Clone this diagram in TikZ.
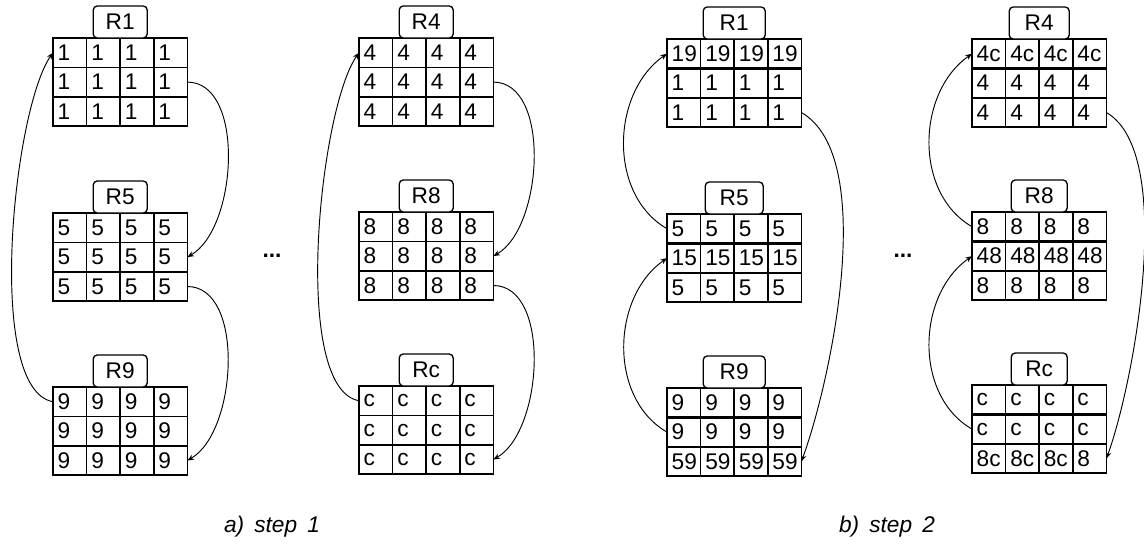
\documentclass[tikz,border=0pt]{standalone}
\usepackage{fontspec}
\setmainfont{Liberation Sans}
\usetikzlibrary{arrows.meta, positioning}

% one register block: [label width px]{name}{x}{top y}{label}{rows}
\newcommand{\regblock}[6][54]{%
  \foreach \rowvals [count=\r] in {#6} {
    \foreach \v [count=\c] in \rowvals {
      \node[cell] (#2-\r-\c) at ({#3+(\c-0.5)*33.6}, {-(#4)-(\r-0.5)*29.4}) {\v};
    }
  }
  \node[reglabel, minimum width=#1*0.75pt] (#2-lab) at ({#3+67.2}, {-(#4)+16}) {#5};
}

\begin{document}
\begin{tikzpicture}[
    x=0.75pt, y=0.75pt,
    every node/.style={font=\fontsize{17}{20}\selectfont},
    cell/.style={draw, line width=1.1pt, outer sep=0pt, inner xsep=3.5pt, inner ysep=0pt,
                 minimum height=22.05pt, text width=18.2pt, align=left},
    reglabel/.style={draw, line width=1pt, fill=white, rounded corners=3pt,
                     minimum height=24pt, inner sep=0pt},
    rowsep/.style={line width=2pt},
    conn/.style={-{Stealth[length=5pt,width=4pt]}, line width=0.7pt},
    caption/.style={font=\fontsize{17}{20}\selectfont\itshape}
]
    \useasboundingbox (0,0) rectangle (1144,-544);

    % a) step 1
    \regblock{a-r1}{53}{38}{R1}{{1,1,1,1},{1,1,1,1},{1,1,1,1}}
    \regblock{a-r5}{53}{213}{R5}{{5,5,5,5},{5,5,5,5},{5,5,5,5}}
    \regblock{a-r9}{53}{387}{R9}{{9,9,9,9},{9,9,9,9},{9,9,9,9}}
    \regblock{a-r4}{359}{38}{R4}{{4,4,4,4},{4,4,4,4},{4,4,4,4}}
    \regblock{a-r8}{359}{212}{R8}{{8,8,8,8},{8,8,8,8},{8,8,8,8}}
    \regblock{a-rc}{359}{386}{Rc}{{c,c,c,c},{c,c,c,c},{c,c,c,c}}

    \draw[conn] (a-r1-2-4.east) to[out=0, in=30, looseness=0.85] (a-r5-2-4.east);
    \draw[conn] (a-r5-3-4.east) to[out=0, in=30, looseness=0.85] (a-r9-3-4.east);
    \draw[conn] (a-r9-1-1.west) to[out=170, in=235, looseness=0.51] (a-r1-1-1.west);
    \draw[conn] (a-r4-2-4.east) to[out=0, in=30, looseness=0.85] (a-r8-2-4.east);
    \draw[conn] (a-r8-3-4.east) to[out=0, in=30, looseness=0.85] (a-rc-3-4.east);
    \draw[conn] (a-rc-1-1.west) to[out=170, in=235, looseness=0.51] (a-r4-1-1.west);

    \node (a-dots) at (272,-256) {\textbf{...}};
    \node[caption] (a-cap) at (272,-527) {a)\hspace{0.45em}step\hspace{0.45em}1};

    % b) step 2
    \regblock[62]{b-r1}{667}{39}{R1}{{19,19,19,19},{1,1,1,1},{1,1,1,1}}
    \regblock[58]{b-r5}{667}{214}{R5}{{5,5,5,5},{15,15,15,15},{5,5,5,5}}
    \regblock[62]{b-r9}{667}{388}{R9}{{9,9,9,9},{9,9,9,9},{59,59,59,59}}
    \regblock[60]{b-r4}{972}{39}{R4}{{4c,4c,4c,4c},{4,4,4,4},{4,4,4,4}}
    \regblock[56]{b-r8}{972}{212}{R8}{{8,8,8,8},{48,48,48,48},{8,8,8,8}}
    \regblock[56]{b-rc}{972}{385}{Rc}{{c,c,c,c},{c,c,c,c},{8c,8c,8c,8}}

    \foreach \blk in {b-r1, b-r5, b-r9, b-r4, b-r8, b-rc}
        \draw[rowsep] (\blk-1-1.south west) -- (\blk-1-4.south east);

    \draw[conn] (b-r1-3-4.east) to[out=-30, in=70, looseness=0.65] (b-r9-3-4.east);
    \draw[conn] (b-r5-1-1.west) to[out=150, in=215, looseness=1] (b-r1-1-1.west);
    \draw[conn] (b-r9-2-1.west) to[out=150, in=215, looseness=1] (b-r5-2-1.west);
    \draw[conn] (b-r4-3-4.east) to[out=-30, in=70, looseness=0.6] (b-rc-3-4.east);
    \draw[conn] (b-r8-1-1.west) to[out=150, in=215, looseness=1] (b-r4-1-1.west);
    \draw[conn] (b-rc-2-1.west) to[out=150, in=215, looseness=1] (b-r8-2-1.west);

    \node (b-dots) at (903,-256) {\textbf{...}};
    \node[caption] (b-cap) at (887,-527) {b)\hspace{0.45em}step\hspace{0.45em}2};
\end{tikzpicture}
\end{document}
